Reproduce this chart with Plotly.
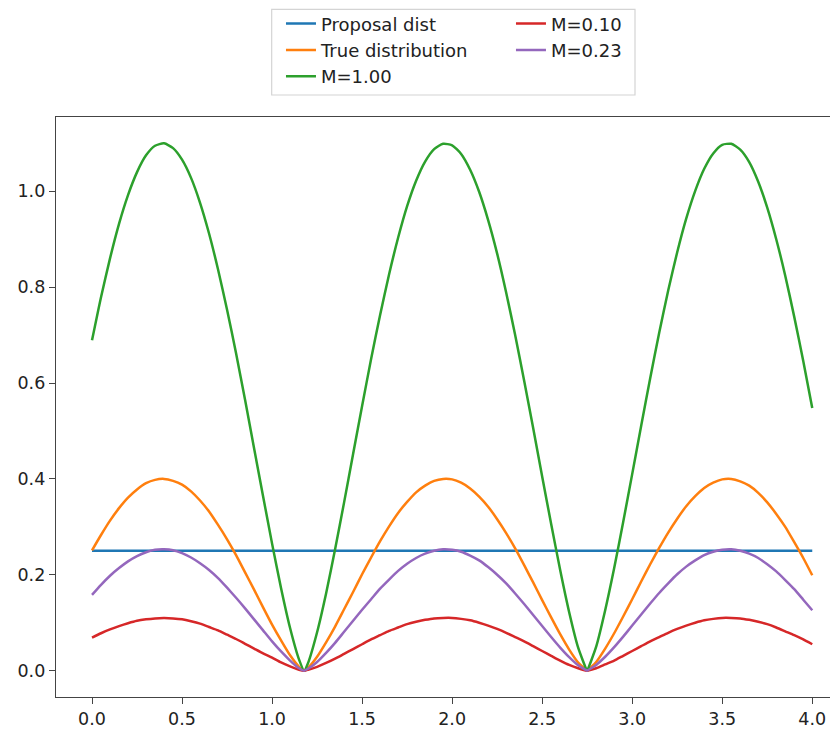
import plotly.graph_objects as go

x_vals = [0.0, 0.05, 0.1, 0.15, 0.2, 0.25, 0.3, 0.35, 0.4, 0.45, 0.5, 0.55, 0.6, 0.65, 0.7, 0.75, 0.8, 0.85, 0.9, 0.95,
          1.0, 1.05, 1.1, 1.15, 1.178, 1.2, 1.25, 1.3, 1.35, 1.4, 1.45, 1.5, 1.55, 1.6, 1.65, 1.7, 1.75, 1.8, 1.85, 1.9, 1.95,
          2.0, 2.05, 2.1, 2.15, 2.2, 2.25, 2.3, 2.35, 2.4, 2.45, 2.5, 2.55, 2.6, 2.65, 2.7, 2.749, 2.75, 2.8, 2.85, 2.9, 2.95,
          3.0, 3.05, 3.1, 3.15, 3.2, 3.25, 3.3, 3.35, 3.4, 3.45, 3.5, 3.55, 3.6, 3.65, 3.7, 3.75, 3.8, 3.85, 3.9, 3.95, 4.0]

proposal_x = [0.0, 4.0]
proposal_y = [0.25, 0.25]

true_dist = [0.251, 0.283, 0.313, 0.339, 0.361, 0.378, 0.391, 0.398, 0.400, 0.396, 0.388, 0.374, 0.355, 0.332, 0.304, 0.274,
             0.241, 0.205, 0.169, 0.132, 0.096, 0.063, 0.032, 0.008, 0.0, 0.006, 0.029, 0.059, 0.092, 0.128, 0.164, 0.201,
             0.236, 0.270, 0.301, 0.329, 0.352, 0.372, 0.386, 0.396, 0.400, 0.399, 0.392, 0.380, 0.363, 0.342, 0.316, 0.287,
             0.255, 0.220, 0.184, 0.147, 0.111, 0.076, 0.044, 0.017, 0.0, 0.0, 0.018, 0.046, 0.078, 0.113, 0.149, 0.186,
             0.222, 0.256, 0.288, 0.317, 0.343, 0.364, 0.381, 0.392, 0.399, 0.400, 0.395, 0.386, 0.371, 0.351, 0.327, 0.300,
             0.268, 0.235, 0.199]

m_100 = [0.689, 0.779, 0.860, 0.932, 0.992, 1.040, 1.075, 1.095, 1.100, 1.090, 1.066, 1.028, 0.976, 0.912, 0.837, 0.753,
         0.662, 0.565, 0.464, 0.364, 0.265, 0.172, 0.089, 0.023, 0.0, 0.016, 0.080, 0.161, 0.253, 0.351, 0.452, 0.552,
         0.650, 0.742, 0.827, 0.903, 0.969, 1.022, 1.062, 1.088, 1.099, 1.096, 1.078, 1.045, 0.999, 0.940, 0.870, 0.789,
         0.700, 0.605, 0.506, 0.405, 0.306, 0.210, 0.122, 0.048, 0.0, 0.0, 0.050, 0.126, 0.214, 0.310, 0.410, 0.511,
         0.610, 0.705, 0.793, 0.873, 0.943, 1.001, 1.047, 1.079, 1.097, 1.099, 1.087, 1.061, 1.020, 0.966, 0.900, 0.824,
         0.738, 0.646, 0.548]

m_010 = [0.069, 0.078, 0.086, 0.093, 0.099, 0.104, 0.107, 0.109, 0.110, 0.109, 0.107, 0.103, 0.098, 0.091, 0.084, 0.075,
         0.066, 0.056, 0.046, 0.036, 0.027, 0.017, 0.009, 0.002, 0.0, 0.002, 0.008, 0.016, 0.025, 0.035, 0.045, 0.055,
         0.065, 0.074, 0.083, 0.090, 0.097, 0.102, 0.106, 0.109, 0.110, 0.110, 0.108, 0.105, 0.100, 0.094, 0.087, 0.079,
         0.070, 0.061, 0.051, 0.041, 0.031, 0.021, 0.012, 0.005, 0.0, 0.0, 0.005, 0.013, 0.021, 0.031, 0.041, 0.051,
         0.061, 0.070, 0.079, 0.087, 0.094, 0.100, 0.105, 0.108, 0.110, 0.110, 0.109, 0.106, 0.102, 0.097, 0.090, 0.082,
         0.074, 0.065, 0.055]

m_023 = [0.158, 0.179, 0.198, 0.214, 0.228, 0.239, 0.247, 0.252, 0.253, 0.251, 0.245, 0.236, 0.224, 0.210, 0.193, 0.173,
         0.152, 0.130, 0.107, 0.084, 0.061, 0.040, 0.021, 0.005, 0.0, 0.004, 0.018, 0.037, 0.058, 0.081, 0.104, 0.127,
         0.149, 0.171, 0.190, 0.208, 0.223, 0.235, 0.244, 0.250, 0.253, 0.252, 0.248, 0.240, 0.230, 0.216, 0.200, 0.182,
         0.161, 0.139, 0.116, 0.093, 0.070, 0.048, 0.028, 0.011, 0.0, 0.0, 0.012, 0.029, 0.049, 0.071, 0.094, 0.117,
         0.140, 0.162, 0.182, 0.201, 0.217, 0.230, 0.241, 0.248, 0.252, 0.253, 0.250, 0.244, 0.235, 0.222, 0.207, 0.189,
         0.170, 0.148, 0.126]

x_tickvals = [0, 0.5, 1, 1.5, 2, 2.5, 3, 3.5, 4]
x_ticktext = ["0.0", "0.5", "1.0", "1.5", "2.0", "2.5", "3.0", "3.5", "4.0"]
y_tickvals = [0, 0.2, 0.4, 0.6, 0.8, 1.0]
y_ticktext = ["0.0", "0.2", "0.4", "0.6", "0.8", "1.0"]

LW = 2.5
SM = 0.6
fig = go.Figure()
fig.add_trace(go.Scatter(x=proposal_x, y=proposal_y, mode="lines", name="Proposal dist",
                         line=dict(color="#1f77b4", width=LW)))
fig.add_trace(go.Scatter(x=x_vals, y=true_dist, mode="lines", name="True distribution",
                         line=dict(color="#ff7f0e", width=LW, shape="spline", smoothing=SM)))
fig.add_trace(go.Scatter(x=x_vals, y=m_100, mode="lines", name="M=1.00",
                         line=dict(color="#2ca02c", width=LW, shape="spline", smoothing=SM)))
fig.add_trace(go.Scatter(x=x_vals, y=m_010, mode="lines", name="M=0.10",
                         line=dict(color="#d62728", width=LW, shape="spline", smoothing=SM), legend="legend2"))
fig.add_trace(go.Scatter(x=x_vals, y=m_023, mode="lines", name="M=0.23",
                         line=dict(color="#9467bd", width=LW, shape="spline", smoothing=SM), legend="legend2"))

# page body has an 8px margin, so the figure is offset by 8px
fig.update_layout(width=830, height=721, margin=dict(l=48, r=0, t=109, b=32, autoexpand=False),
                  plot_bgcolor="white", paper_bgcolor="white",
                  font=dict(family="DejaVu Sans", size=18, color="#222"))
axis_common = dict(showgrid=False, zeroline=False, showline=True, linecolor="#444", linewidth=1.4,
                   ticks="outside", ticklen=6, tickwidth=1.4, tickcolor="#444", tickfont=dict(size=17.5))
fig.update_xaxes(range=[-0.2, 4.143], mirror=True, tickvals=x_tickvals, ticktext=x_ticktext, **axis_common)
fig.update_yaxes(range=[-0.055, 1.155], tickvals=y_tickvals, ticktext=y_ticktext, **axis_common)
fig.update_layout(
    legend=dict(x=0.2877, y=1.1925, xanchor="left", yanchor="top", bgcolor="rgba(0,0,0,0)", borderwidth=0,
                font=dict(size=18)),
    legend2=dict(x=0.5818, y=1.1925, xanchor="left", yanchor="top", bgcolor="rgba(0,0,0,0)", borderwidth=0,
                 font=dict(size=18)),
    shapes=[dict(type="rect", xref="paper", yref="paper", x0=0.2758, x1=0.7404, y0=1.0379, y1=1.1857,
                 line=dict(color="#d4d4d4", width=1.2), fillcolor="rgba(255,255,255,0.8)", layer="below")])
fig.write_html("out.html")
